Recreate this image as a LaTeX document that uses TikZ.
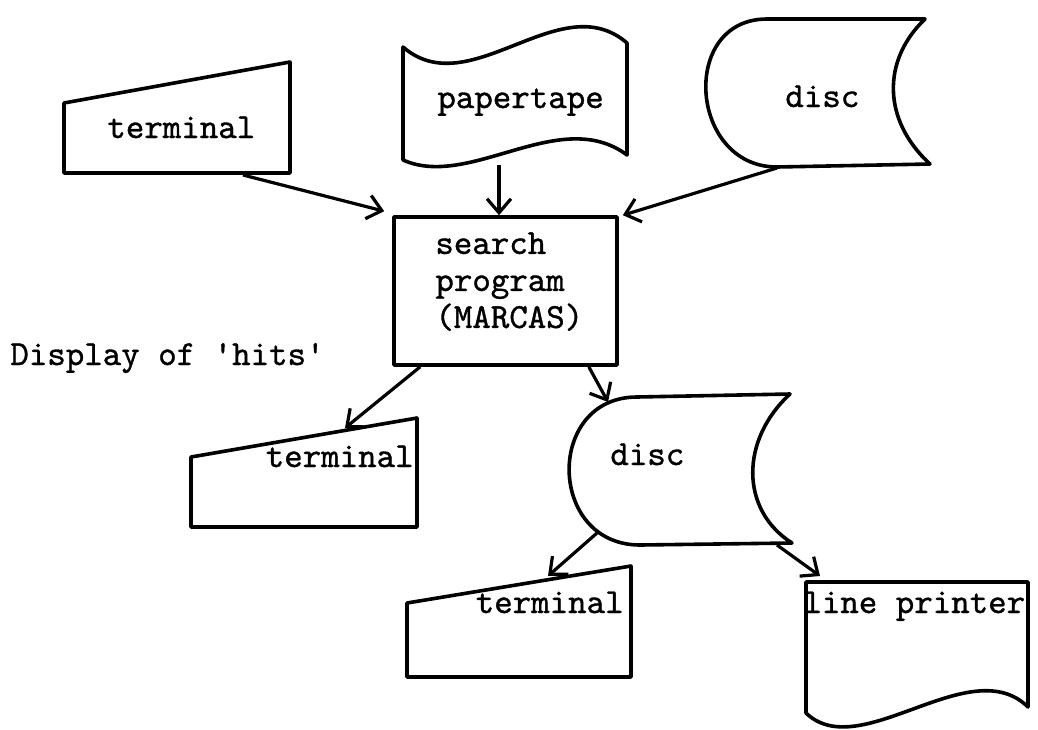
\documentclass[tikz,border=0pt]{standalone}
\usepackage{fontspec}
\setmonofont{lmmono10-regular}[Extension=.otf, FakeBold=1]
\usetikzlibrary{arrows.meta}

\tikzset{
  outline/.style={line width=1.8pt, line join=round},
  conn/.style={line width=1.6pt, -{Straight Barb[length=7pt,width=12pt]}},
  txt/.style={font=\ttfamily\fontsize{17.6}{18.5}\selectfont, inner sep=0pt},
}

\begin{document}
\begin{tikzpicture}[x=0.5pt,y=-0.5pt]
\useasboundingbox (0,0) rectangle (1038,729);

% Input devices
\draw[outline] (64,103) -- (290,62) -- (290,173) -- (64,173) -- cycle;
\node[txt, anchor=base west] (term1) at (107,138) {terminal};

\draw[outline] (403,47) .. controls (470,105) and (560,-15) .. (627,43)
  -- (627,155) .. controls (560,105) and (470,190) .. (403,160) -- cycle;
\node[txt, anchor=base west] (ptape) at (437,108) {papertape};

\draw[outline] (767,19) -- (925,19) .. controls (882,60) and (882,120) .. (930,164)
  -- (777,167) .. controls (689,167) and (679,19) .. (767,19) -- cycle;
\node[txt, anchor=base west] (disc1) at (785,107) {disc};

% Search program
\node[outline, draw, minimum width=111.5pt, minimum height=74pt] (srch) at (505.5,291) {};
\node[txt, align=left, anchor=north west] (srch text) at (435,232) {search\\program\\(MARCAS)};

\node[txt, anchor=base west] (hits) at (10,365) {Display of \textquotesingle hits\textquotesingle};

% Output devices
\draw[outline] (191,457) -- (417,418) -- (417,527) -- (191,527) -- cycle;
\node[txt, anchor=base east] (term2) at (414,467) {terminal};

\draw[outline] (637,397) -- (790,394) .. controls (740,440) and (740,510) .. (792,543)
  -- (640,545) .. controls (547,545) and (545,397) .. (637,397) -- cycle;
\node[txt, anchor=base west] (disc2) at (610,465) {disc};

\draw[outline] (407,603) -- (631,566) -- (631,677) -- (407,677) -- cycle;
\node[txt, anchor=base east] (term3) at (624,613) {terminal};

\draw[outline] (806,582) -- (1028,582) -- (1028,707)
  .. controls (970,650) and (860,765) .. (806,713) -- cycle;
\node[txt, anchor=base west] (lprint) at (803,613) {line printer};

% Connection points
\coordinate (term1 out) at (243,175);
\coordinate (ptape out) at (499,165);
\coordinate (disc1 out) at (777,168);
\coordinate (term2 in) at (345,428);
\coordinate (disc2 in) at (608,402);
\coordinate (disc2 out1) at (597,533);
\coordinate (disc2 out2) at (777,545);
\coordinate (term3 in) at (548,576);
\coordinate (lprint in) at (820,576);

% Connectors
\draw[conn] (term1 out) -- ([xshift=-4pt,yshift=2pt]srch.north west);
\draw[conn] (ptape out) -- (ptape out |- srch.north);
\draw[conn] (disc1 out) -- ([xshift=2pt]srch.north east);
\draw[conn] ([xshift=14pt]srch.south west) -- (term2 in);
\draw[conn] ([xshift=-15pt]srch.south east) -- (disc2 in);
\draw[conn] (disc2 out1) -- (term3 in);
\draw[conn] (disc2 out2) -- (lprint in);

\end{tikzpicture}
\end{document}
